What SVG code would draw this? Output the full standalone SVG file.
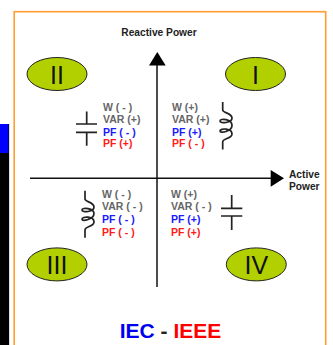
<svg xmlns="http://www.w3.org/2000/svg" width="333" height="345" viewBox="0 0 333 345">
<style>
text{font-family:"Liberation Sans",Arial,sans-serif;font-weight:bold}
.ax{font-size:10.200px;fill:#222}
.q{font-size:10.500px}
.g{fill:#666}.b{fill:#1a1aff}.r{fill:#ff1a1a}
.e{fill:#b2d000;stroke:#222;stroke-width:1}
.n{font-family:"Liberation Sans",Arial,sans-serif;font-weight:normal;font-size:25px;fill:#111;text-anchor:middle}
.l{fill:none;stroke:#111;stroke-width:1.500}
.s{fill:none;stroke:#222;stroke-width:1.700}
</style>
<rect x="0" y="124" width="9" height="221" fill="#000"/>
<rect x="0" y="124" width="8.500" height="29" fill="#0000ff"/>
<rect x="9" y="124" width="1" height="221" fill="#ddd"/>
<rect id="frame" x="14.200" y="11.700" width="311.500" height="340" fill="#fff" stroke="#ff9d2e" stroke-width="1.600"/>
<g id="connectors">
<path class="l" d="M157 287V63"/><path d="M157.300 52L149 65.500H165.700Z" fill="#000"/>
<path class="l" d="M30 178.300H272"/><path d="M284 178.300L270.700 170V186.700Z" fill="#000"/>
</g>
<g id="label-reactive"><text class="ax" x="159" y="36" text-anchor="middle">Reactive Power</text></g>
<g id="label-active"><text class="ax" x="289" y="178">Active</text><text class="ax" x="289" y="190">Power</text></g>
<g id="q2"><ellipse class="e" cx="57" cy="74" rx="30" ry="16.500"/><text class="n" x="57" y="83.500">II</text>
<g class="q"><text class="g" x="103" y="111">W ( - )</text><text class="g" x="103" y="123">VAR (+)</text><text class="b" x="103" y="136">PF ( - )</text><text class="r" x="103" y="147">PF (+)</text></g>
<path class="s" d="M86.700 111.500V124M76 124H97M76 132.300H97M86.700 132.300V145.700"/></g>
<g id="q1"><ellipse class="e" cx="255.500" cy="74" rx="30" ry="16.500"/><text class="n" x="255.500" y="83.500">I</text>
<g class="q"><text class="g" x="172" y="111">W (+)</text><text class="g" x="172" y="123">VAR (+)</text><text class="b" x="172" y="136">PF (+)</text><text class="r" x="172" y="147">PF ( - )</text></g>
<path class="s" d="M222.700 102V110C222.700 113 232 113 232 118C232 123 220 124 220 121C220 118 232 119 232 125.500C232 131 220 134 220 131C220 128 232 128 232 134C232 139 222.700 138 222.700 142V149.500"/></g>
<g id="q3"><ellipse class="e" cx="57" cy="264.400" rx="30" ry="16.500"/><text class="n" x="57" y="273.500">III</text>
<g class="q"><text class="g" x="102" y="198">W ( - )</text><text class="g" x="102" y="210">VAR ( - )</text><text class="b" x="102" y="222.500">PF ( - )</text><text class="r" x="102" y="235.500">PF ( - )</text></g>
<path class="s" d="M85 190.700V199C85 202 94 202 94 207C94 212 82 213 82 210C82 207 94 208 94 213.500C94 219 82 222 82 219.300C82 216 94 216 94 222C94 227 85 226 85 230V237.700"/></g>
<g id="q4"><ellipse class="e" cx="256.300" cy="264.400" rx="30" ry="16.500"/><text class="n" x="256.300" y="273.500">IV</text>
<g class="q"><text class="g" x="171" y="198">W (+)</text><text class="g" x="171" y="210">VAR ( - )</text><text class="b" x="171" y="222.500">PF (+)</text><text class="r" x="171" y="235.500">PF (+)</text></g>
<path class="s" d="M231.700 195V208.300M221 208.300H242.300M221 216H242.300M231.700 216V230"/></g>
<g id="title"><text x="170.500" y="338" text-anchor="middle" font-size="21" fill="#222"><tspan fill="#0000ee">IEC</tspan> - <tspan fill="#ff0000">IEEE</tspan></text></g>
</svg>
